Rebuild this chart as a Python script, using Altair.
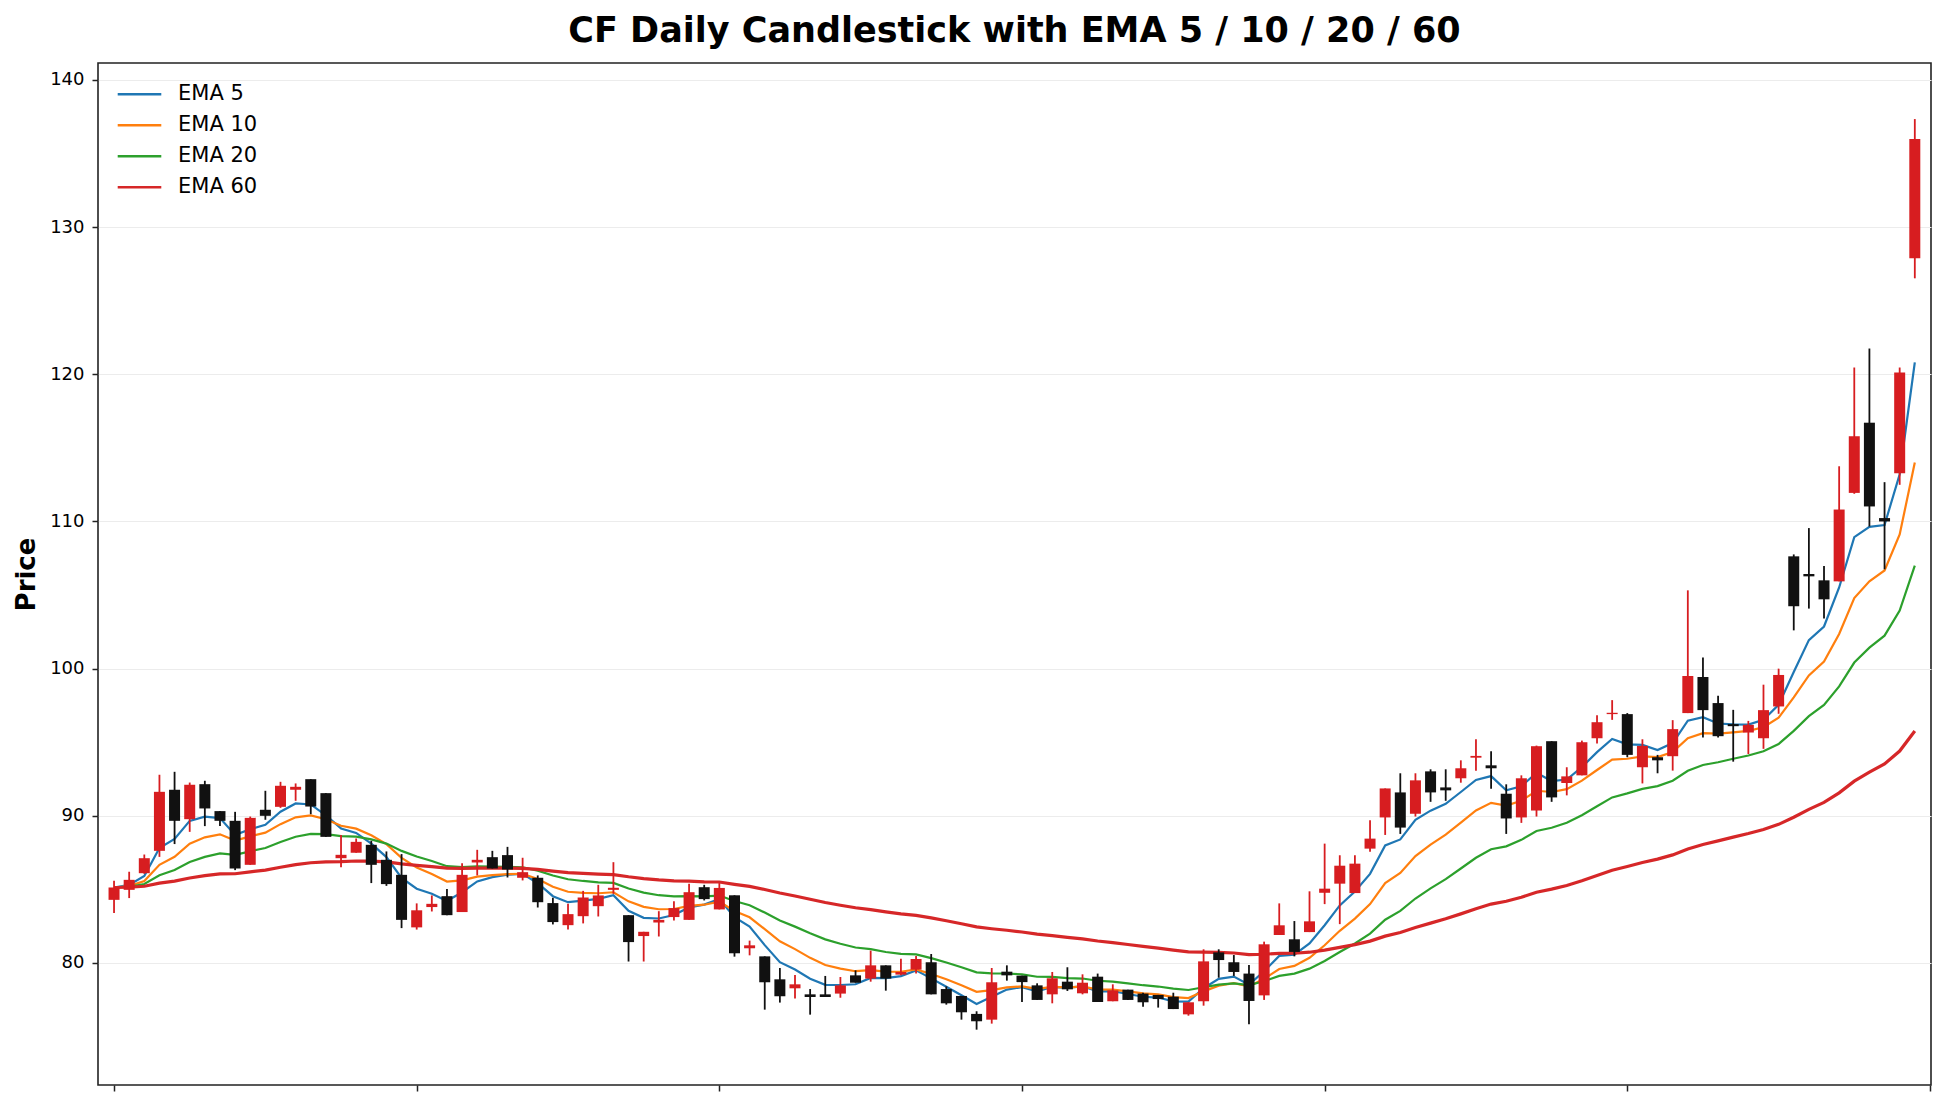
# %%
import pandas as pd
import altair as alt

# %%
# daily OHLC values (red = up day, black = down day)
opens = [84.29, 84.97, 86.10, 87.62, 91.77, 89.77, 92.15, 90.32, 89.66, 86.67,
         90.41, 90.61, 91.77, 92.49, 91.54, 87.12, 87.49, 88.03, 87.01, 85.99,
         82.42, 83.80, 84.54, 83.46, 86.83, 87.19, 87.33, 85.79, 85.79, 84.07,
         82.57, 83.18, 83.86, 84.97, 83.25, 81.83, 82.75, 83.12, 82.93, 85.15,
         83.64, 84.60, 81.00, 80.45, 78.89, 78.28, 77.87, 77.87, 77.92, 79.16,
         78.94, 79.84, 79.21, 79.55, 80.05, 78.23, 77.76, 76.54, 76.15, 79.41,
         79.14, 78.48, 77.87, 78.73, 77.94, 79.07, 77.40, 78.19, 77.92, 77.83,
         77.71, 76.51, 77.40, 80.72, 80.05, 79.28, 77.80, 81.90, 81.61, 82.10,
         84.77, 85.39, 84.75, 87.77, 89.89, 91.59, 90.14, 93.02, 91.93, 92.55,
         93.95, 93.43, 91.50, 89.89, 90.36, 95.07, 92.23, 92.75, 95.27, 96.91,
         96.91, 93.30, 93.98, 94.05, 96.98, 99.43, 97.66, 96.23, 95.66, 95.27,
         97.43, 107.63, 106.43, 106.00, 105.93, 111.94, 116.71, 110.23, 113.28, 127.88]
highs = [85.58, 86.20, 87.37, 92.79, 92.99, 92.26, 92.38, 90.32, 90.27, 89.95,
         91.70, 92.31, 92.20, 92.49, 91.54, 88.69, 88.46, 88.30, 87.58, 87.40,
         84.05, 84.59, 85.02, 86.78, 87.69, 87.62, 87.89, 87.15, 85.95, 84.43,
         84.02, 84.90, 85.31, 86.85, 83.25, 82.12, 83.52, 84.20, 85.38, 85.31,
         85.43, 84.60, 81.52, 80.45, 79.66, 79.18, 78.23, 79.12, 79.05, 79.50,
         80.84, 79.84, 80.29, 80.48, 80.61, 78.41, 77.76, 76.72, 79.66, 79.84,
         79.14, 78.62, 79.39, 79.71, 79.23, 79.28, 78.55, 78.19, 77.98, 77.83,
         77.98, 77.33, 80.93, 80.93, 80.54, 79.86, 81.45, 84.05, 82.85, 84.87,
         88.11, 87.32, 87.32, 89.70, 91.86, 92.89, 92.89, 93.16, 93.16, 93.77,
         95.20, 94.39, 92.14, 92.75, 94.77, 95.07, 93.30, 95.11, 96.84, 97.86,
         96.98, 95.20, 94.14, 96.50, 105.32, 100.75, 98.16, 97.20, 96.45, 98.91,
         100.00, 107.76, 109.55, 106.97, 113.75, 120.46, 121.75, 112.67, 120.46, 137.34]
lows = [83.39, 84.41, 86.06, 87.21, 88.08, 88.91, 89.30, 89.30, 86.31, 86.67,
        89.73, 90.54, 91.02, 90.11, 88.57, 86.51, 87.49, 85.43, 85.24, 82.37,
        82.27, 83.50, 83.25, 83.46, 85.95, 86.42, 85.81, 85.61, 83.77, 82.62,
        82.28, 82.69, 83.16, 84.70, 80.10, 80.10, 81.80, 82.89, 82.93, 84.25,
        83.64, 80.43, 80.52, 76.83, 77.31, 77.58, 76.49, 77.69, 77.64, 78.66,
        78.73, 78.12, 79.16, 79.28, 77.87, 77.17, 76.15, 75.47, 75.88, 78.80,
        77.35, 77.49, 77.26, 78.10, 77.87, 77.35, 77.40, 77.49, 77.03, 76.97,
        76.87, 76.42, 77.10, 79.00, 79.12, 75.83, 77.49, 81.90, 80.45, 82.10,
        84.00, 82.64, 84.75, 87.55, 88.70, 88.77, 89.95, 90.95, 91.02, 92.25,
        93.07, 91.84, 88.77, 89.52, 89.95, 90.95, 91.39, 92.75, 94.91, 96.52,
        93.98, 92.20, 92.89, 93.07, 96.98, 95.32, 95.32, 93.68, 94.20, 94.55,
        96.93, 102.60, 104.08, 103.40, 105.93, 111.88, 109.66, 106.75, 112.49, 126.52]
closes = [85.13, 85.65, 87.12, 91.63, 89.66, 92.11, 90.50, 89.66, 86.42, 89.86,
          90.00, 92.04, 91.97, 90.63, 88.57, 87.35, 88.23, 86.67, 85.36, 82.93,
          83.58, 84.02, 83.25, 85.99, 87.01, 86.42, 86.35, 86.17, 84.13, 82.78,
          83.32, 84.45, 84.59, 85.11, 81.42, 82.12, 82.93, 83.73, 84.81, 84.34,
          85.10, 80.66, 81.20, 78.69, 77.74, 78.55, 77.69, 77.69, 78.48, 78.66,
          79.84, 78.94, 79.39, 80.27, 77.87, 77.26, 76.65, 76.04, 78.69, 79.16,
          78.70, 77.49, 78.96, 78.21, 78.66, 77.35, 78.14, 77.49, 77.33, 77.55,
          76.87, 77.33, 80.11, 80.20, 79.39, 77.42, 81.27, 82.56, 80.75, 82.83,
          85.05, 86.61, 86.75, 88.45, 91.86, 89.20, 92.41, 91.59, 91.73, 93.23,
          94.07, 93.23, 89.82, 92.55, 94.73, 91.25, 92.68, 95.00, 96.36, 97.00,
          94.14, 94.75, 93.77, 95.89, 99.50, 97.18, 95.41, 96.09, 96.18, 97.18,
          99.57, 104.24, 106.27, 104.71, 110.81, 115.79, 111.02, 110.00, 120.12, 135.99]

ema_spans = [5, 10, 20, 60]
ema_names = ["EMA 5", "EMA 10", "EMA 20", "EMA 60"]
ema_colors = ["#1f77b4", "#ff7f0e", "#2ca02c", "#d62728"]
y_ticks = [80, 90, 100, 110, 120, 130, 140]
x_ticks = [0, 20, 40, 60, 80, 100, 120]

# %%
df = pd.DataFrame({"day": range(len(closes)), "open": opens, "high": highs,
                   "low": lows, "close": closes})

# exponential moving averages of the close, same as pandas ewm(adjust=False)
ema = pd.concat([
    pd.DataFrame({"day": df["day"], "series": name,
                  "value": df["close"].ewm(span=span, adjust=False).mean()})
    for span, name in zip(ema_spans, ema_names)
])

x_enc = alt.X("day:Q",
              scale=alt.Scale(domain=[-1.06, 120.07], nice=False, zero=False, padding=0),
              axis=alt.Axis(values=x_ticks, labels=False, ticks=True, tickSize=6,
                            tickWidth=1.5, tickColor="#222", domain=False, grid=False),
              title=None)
y_scale = alt.Scale(domain=[71.71, 141.15], nice=False, zero=False)
y_axis = alt.Axis(values=y_ticks, labelFontSize=18, labelColor="black", tickSize=6,
                  tickWidth=1.5, tickColor="#222", labelPadding=8, domain=False,
                  grid=True, gridColor="#ececec", gridWidth=1,
                  titleFontSize=26, titleFontWeight="bold", titleColor="black",
                  titlePadding=10)
color_enc = alt.Color("series:N", scale=alt.Scale(domain=ema_names, range=ema_colors),
                      legend=alt.Legend(title=None, orient="none", legendX=18, legendY=16,
                                        symbolType="stroke", symbolSize=1900,
                                        symbolStrokeWidth=2.6, labelFontSize=21,
                                        labelColor="black", labelOffset=15, padding=0,
                                        clipHeight=30.5, rowPadding=0))

# short EMAs thin, EMA 60 a bit heavier
short_lines = alt.Chart(ema).transform_filter(alt.datum.series != "EMA 60").mark_line(
    strokeWidth=2.2).encode(
    x=x_enc,
    y=alt.Y("value:Q", scale=y_scale, axis=y_axis, title="Price"),
    color=color_enc,
)
long_line = alt.Chart(ema).transform_filter(alt.datum.series == "EMA 60").mark_line(
    strokeWidth=3.2).encode(
    x=x_enc,
    y=alt.Y("value:Q", scale=y_scale),
    color=color_enc,
)

up = alt.datum.close >= alt.datum.open
wicks = alt.Chart(df).mark_rule(strokeWidth=1.8).encode(
    x=x_enc,
    y=alt.Y("low:Q", scale=y_scale),
    y2="high:Q",
    color=alt.condition(up, alt.value("#d71d20"), alt.value("#111111")),
)
bodies = alt.Chart(df).mark_bar(size=11).encode(
    x=x_enc,
    y=alt.Y("open:Q", scale=y_scale),
    y2="close:Q",
    color=alt.condition(up, alt.value("#d71d20"), alt.value("#111111")),
)

chart = alt.layer(short_lines, long_line, wicks, bodies).properties(
    width=1833, height=1022,
    title=alt.TitleParams("CF Daily Candlestick with EMA 5 / 10 / 20 / 60",
                          fontSize=35, fontWeight="bold", color="black",
                          anchor="middle", offset=14),
    autosize=alt.AutoSizeParams(type="none"),
    padding={"left": 90, "top": 55, "right": 5, "bottom": 12},
).configure(font="DejaVu Sans").configure_view(stroke="#222", strokeWidth=1.6)

chart.save("out.html", embed_options={"renderer": "svg", "actions": False})
